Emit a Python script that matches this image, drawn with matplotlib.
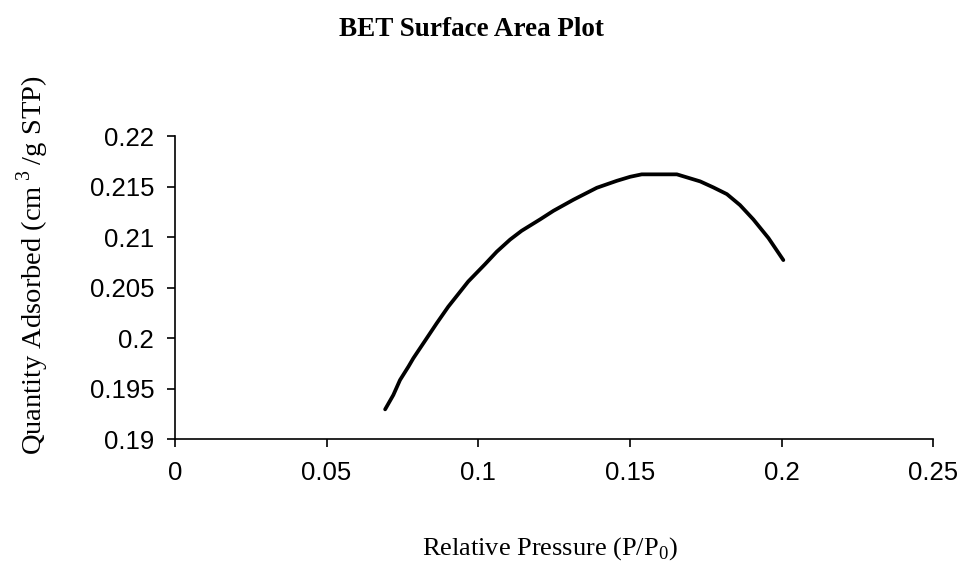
import matplotlib
matplotlib.use("Agg")
import matplotlib.pyplot as plt

# Data
rel_pressure = [0.0693, 0.0720, 0.0742, 0.0770, 0.0786, 0.0825, 0.0863, 0.0901,
                0.0929, 0.0967, 0.1022, 0.1061, 0.1105, 0.1143, 0.1204, 0.1248,
                0.1314, 0.1391, 0.1457, 0.1501, 0.1539, 0.1600, 0.1655, 0.1688,
                0.1732, 0.1775, 0.1820, 0.1863, 0.1907, 0.1957, 0.2006]
qty_adsorbed = [0.19294, 0.19436, 0.19584, 0.19718, 0.19800, 0.19975, 0.20146, 0.20310,
                0.20416, 0.20560, 0.20730, 0.20855, 0.20975, 0.21062, 0.21175, 0.21260,
                0.21370, 0.21488, 0.21557, 0.21597, 0.21621, 0.21621, 0.21621, 0.21591,
                0.21551, 0.21492, 0.21425, 0.21317, 0.21175, 0.20990, 0.20772]
x_ticks = [0, 0.05, 0.1, 0.15, 0.2, 0.25]
x_tick_labels = ["0", "0.05", "0.1", "0.15", "0.2", "0.25"]
y_ticks = [0.19, 0.195, 0.2, 0.205, 0.21, 0.215, 0.22]
y_tick_labels = ["0.19", "0.195", "0.2", "0.205", "0.21", "0.215", "0.22"]

fig = plt.figure(figsize=(9.64, 5.67), dpi=100)
ax = fig.add_axes([0.1815, 0.2257, 0.968 - 0.1815, 0.760 - 0.2257])

ax.plot(rel_pressure, qty_adsorbed, color="black", lw=2.7,
        solid_capstyle="round", solid_joinstyle="round")

ax.set_xlim(0, 0.25)
ax.set_ylim(0.19, 0.22)
ax.set_xticks(x_ticks)
ax.set_xticklabels(x_tick_labels, family="Liberation Sans", fontsize=18.5)
ax.set_yticks(y_ticks)
ax.set_yticklabels(y_tick_labels, family="Liberation Sans", fontsize=18.5)
ax.tick_params(axis="x", direction="out", length=6, width=1.2, pad=10)
ax.tick_params(axis="y", direction="out", length=6, width=1.2, pad=9)

for s in ["top", "right"]:
    ax.spines[s].set_visible(False)
for s in ["left", "bottom"]:
    ax.spines[s].set_linewidth(1.2)

fig.text(471 / 964, 1 - 29 / 567, "BET Surface Area Plot", ha="center", va="center",
         family="Liberation Serif", fontweight="bold", fontsize=19.5)
fig.text(550 / 964, 1 - 549 / 567, r"Relative Pressure (P/P$_{\mathregular{0}}$)",
         ha="center", va="center", family="Liberation Serif", fontsize=19)
fig.text(33 / 964, 1 - 265 / 567, r"Quantity Adsorbed (cm$^{\mathregular{\;3\;}}$/g STP)",
         ha="center", va="center", rotation=90, family="Liberation Serif", fontsize=20.5)

fig.savefig("out.png", dpi=100)
